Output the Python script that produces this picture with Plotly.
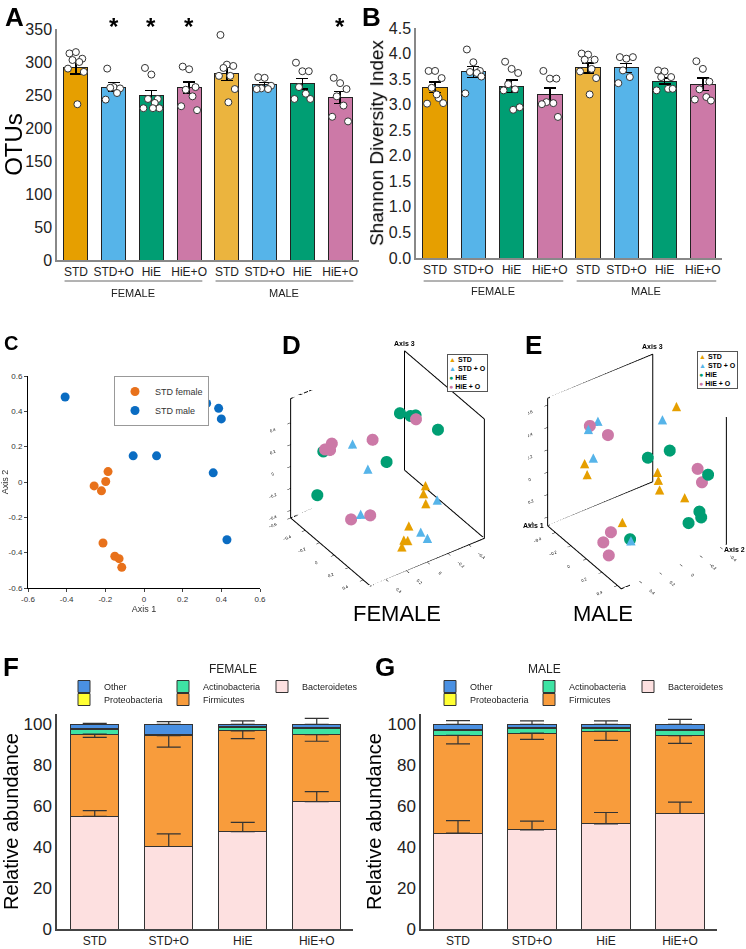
import plotly.graph_objects as go

W, H = 746, 949
def fx(px): return px / W
def fy(py): return 1 - py / H

FONT = "Arial, Liberation Sans, sans-serif"

# ---------------- data ----------------
groups = ["STD", "STD+O", "HiE", "HiE+O"]
alpha_labels = groups + groups
sex_labels = ["FEMALE", "MALE"]
bar_colors = ["#E69F00", "#56B4E9", "#009E73", "#CC79A7",
              "#EBB43E", "#56B4E9", "#009E73", "#CC79A7"]

# Panel A: OTUs
otu_mean = [291, 262, 249, 261, 282, 266, 267, 246]
otu_sem = [9, 7, 8, 9, 10, 3, 8, 9]
otu_points = [
    [313, 315, 305, 303, 300, 290, 285, 236],
    [290, 262, 260, 261, 253, 243],
    [291, 281, 244, 244, 238, 230, 230, 230],
    [293, 289, 262, 258, 248, 233, 227],
    [341, 296, 294, 291, 279, 279, 259, 239],
    [277, 276, 264, 260, 259, 259],
    [299, 286, 286, 262, 252, 244, 244],
    [276, 268, 259, 248, 234, 217, 210],
]
otu_sig = [False, True, True, True, False, False, False, True]

# Panel B: Shannon diversity
sh_mean = [3.34, 3.64, 3.36, 3.20, 3.72, 3.72, 3.46, 3.40]
sh_sem = [0.10, 0.11, 0.12, 0.13, 0.10, 0.09, 0.06, 0.12]
sh_points = [
    [3.66, 3.66, 3.52, 3.33, 3.13, 3.02, 3.03, 3.20],
    [4.08, 3.83, 3.66, 3.64, 3.62, 3.22, 3.55],
    [3.84, 3.70, 3.62, 3.40, 3.30, 3.28, 2.95, 2.90],
    [3.66, 3.51, 3.51, 3.05, 3.03, 3.01, 2.76],
    [4.00, 3.98, 3.88, 3.88, 3.70, 3.65, 3.52, 3.20],
    [3.93, 3.90, 3.93, 3.67, 3.54, 3.42],
    [3.67, 3.65, 3.54, 3.54, 3.31, 3.28, 3.31],
    [3.85, 3.70, 3.45, 3.30, 3.15, 3.10, 3.08],
]

# Panel C: PCoA STD female vs male
c_female_x = [-0.186, -0.198, -0.258, -0.220, -0.212, -0.151, -0.129, -0.115]
c_female_y = [0.059, 0.003, -0.022, -0.050, -0.345, -0.420, -0.434, -0.483]
c_male_x = [-0.408, -0.056, 0.065, 0.324, 0.386, 0.400, 0.358, 0.429]
c_male_y = [0.481, 0.148, 0.148, 0.445, 0.417, 0.357, 0.052, -0.327]
c_ticks = [-0.6, -0.4, -0.2, 0, 0.2, 0.4, 0.6]
c_ticktext = ["-0.6", "-0.4", "-0.2", "0", "0.2", "0.4", "0.6"]

# Panels D / E: 3D PCoA (axis1, axis2, axis3)
d_data = {
    "STD":   ([0.10, 0.13, 0.19, 0.27, 0.33, 0.34, 0.36],
              [-0.26, -0.22, -0.20, 0.02, 0.11, 0.08, 0.15],
              [-0.10, -0.14, -0.19, -0.26, -0.32, -0.33, -0.35]),
    "STD + O": ([-0.22, -0.08, 0.19, 0.02, 0.32, 0.37],
                [0.22, 0.17, -0.31, 0.31, -0.06, -0.09],
                [0.29, 0.12, -0.20, -0.18, -0.32, -0.36]),
    "HiE":   ([-0.28, -0.19, -0.15, 0.13, -0.38, -0.05, -0.42],
              [-0.28, -0.32, -0.34, -0.36, 0.39, 0.01, 0.42],
              [0.34, 0.35, 0.37, 0.39, 0.20, 0.14, -0.21]),
    "HiE + O": ([-0.32, -0.33, -0.37, -0.20, -0.13, -0.04, 0.11],
                [0.35, 0.36, 0.38, 0.04, -0.33, 0.36, 0.28],
                [0.29, 0.23, 0.22, 0.27, 0.35, -0.24, -0.15]),
}
e_data = {
    "STD":   ([-0.04, -0.26, -0.24, -0.01, 0.04, 0.03, 0.17, 0.11],
              [-0.34, 0.40, 0.39, -0.13, -0.10, -0.12, -0.26, 0.31],
              [0.51, 0.15, 0.06, 0.02, -0.01, -0.11, -0.15, -0.19]),
    "STD + O": ([-0.25, -0.27, -0.20, -0.09, 0.22],
                [0.37, 0.26, 0.36, -0.24, 0.31],
                [0.45, 0.47, 0.22, 0.40, -0.29]),
    "HiE":   ([0.07, -0.03, 0.33, 0.27, 0.28, 0.26, 0.21],
              [-0.19, -0.05, -0.37, -0.33, -0.34, -0.23, 0.31],
              [0.24, 0.17, 0.11, -0.24, -0.29, -0.31, -0.28]),
    "HiE + O": ([-0.27, -0.18, 0.26, 0.29, 0.08, 0.06, 0.17],
                [0.34, 0.23, -0.32, -0.34, 0.40, 0.46, 0.49],
                [0.46, 0.39, 0.14, 0.03, -0.26, -0.34, -0.38]),
}
pcoa_colors = {"STD": "#E69F00", "STD + O": "#56B4E9", "HiE": "#009E73", "HiE + O": "#CC79A7"}
pcoa_shape = {"STD": "tri", "STD + O": "tri", "HiE": "dot", "HiE + O": "dot"}
# axis ranges (Axis 1, Axis 2, Axis 3) of the two ordination boxes
d_ranges = ([-0.6, 0.5], [-0.55, 0.55], [-0.47, 0.62])
e_ranges = ([-0.5, 0.45], [-0.46, 0.58], [-0.48, 0.66])

# Panels F / G: relative abundance (stacked, %)
phyla = ["Bacteroidetes", "Firmicutes", "Actinobacteria", "Proteobacteria", "Other"]
phyla_colors = {"Bacteroidetes": "#FDE0E0", "Firmicutes": "#F89C3C",
                "Actinobacteria": "#3EE3A3", "Proteobacteria": "#FFFF33", "Other": "#4A90E2"}
female_abund = {
    "Bacteroidetes": [55.0, 40.3, 47.6, 62.2],
    "Firmicutes": [40.2, 54.1, 49.2, 32.7],
    "Actinobacteria": [2.0, 0.5, 1.5, 2.9],
    "Proteobacteria": [0.5, 0.2, 0.4, 0.4],
    "Other": [2.3, 4.9, 1.3, 1.8],
}
female_err = {"Bacteroidetes": [2.8, 6.2, 4.5, 4.9],
              "Firmicutes": [1.6, 5.6, 3.8, 3.2],
              "Other": [0.4, 1.3, 1.6, 2.9]}
male_abund = {
    "Bacteroidetes": [46.8, 48.4, 51.3, 56.4],
    "Firmicutes": [47.8, 47.3, 45.2, 38.0],
    "Actinobacteria": [2.2, 2.4, 1.3, 2.4],
    "Proteobacteria": [0.5, 0.3, 0.4, 0.5],
    "Other": [2.7, 1.6, 1.8, 2.7],
}
male_err = {"Bacteroidetes": [6.1, 4.3, 5.6, 5.6],
            "Firmicutes": [4.2, 3.1, 4.4, 3.7],
            "Other": [1.8, 1.6, 1.6, 2.4]}

# ---------------- figure ----------------
fig = go.Figure()
SPREAD = [-0.17, 0.0, 0.17, -0.09, 0.09, -0.21, 0.21, 0.04]

def dot_panel(means, sems, points, xa, ya):
    fig.add_trace(go.Bar(
        x=list(range(8)), y=means, width=0.64,
        marker=dict(color=bar_colors, line=dict(color="#222", width=1)),
        error_y=dict(type="data", array=sems, color="black", thickness=1.5, width=6),
        xaxis=xa, yaxis=ya, showlegend=False))
    for i, pts in enumerate(points):
        fig.add_trace(go.Scatter(
            x=[i + SPREAD[k % len(SPREAD)] for k in range(len(pts))], y=pts,
            mode="markers",
            marker=dict(color="white", size=7, line=dict(color="#333", width=1)),
            xaxis=xa, yaxis=ya, showlegend=False))

dot_panel(otu_mean, otu_sem, otu_points, "x", "y")
dot_panel(sh_mean, sh_sem, sh_points, "x2", "y2")

# Panel C
fig.add_trace(go.Scatter(x=c_female_x, y=c_female_y, mode="markers", name="STD female",
                         marker=dict(color="#E8711B", size=9), xaxis="x3", yaxis="y3",
                         legend="legend"))
fig.add_trace(go.Scatter(x=c_male_x, y=c_male_y, mode="markers", name="STD male",
                         marker=dict(color="#0A6CC2", size=9), xaxis="x3", yaxis="y3",
                         legend="legend"))

# Panels D, E  (scene x = Axis 2, scene y = Axis 1, scene z = Axis 3)
def box_edges(ranges, scene):
    (y0, y1), (x0, x1), (z0, z1) = ranges
    # back walls and floor of the ordination box
    xs = [x0, x1, x1, x0, x0, None, x1, x1, None, x0, x0, None, x0, x0, None, x1, x0, x0]
    ys = [y0, y0, y1, y1, y0, None, y0, y0, None, y0, y0, None, y1, y1, None, y0, y0, y1]
    zs = [z0, z0, z0, z0, z0, None, z0, z1, None, z0, z1, None, z0, z1, None, z1, z1, z1]
    fig.add_trace(go.Scatter3d(x=xs, y=ys, z=zs, mode="lines",
                               line=dict(color="black", width=2),
                               scene=scene, showlegend=False))

def pcoa3d(data, ranges, scene):
    box_edges(ranges, scene)
    for g, (a1, a2, a3) in data.items():
        if pcoa_shape[g] == "tri":
            fig.add_trace(go.Scatter3d(x=a2, y=a1, z=a3, mode="text", text=["▲"] * len(a1),
                                       textposition="middle center",
                                       textfont=dict(color=pcoa_colors[g], size=16),
                                       scene=scene, showlegend=False))
        else:
            fig.add_trace(go.Scatter3d(x=a2, y=a1, z=a3, mode="markers",
                                       marker=dict(color=pcoa_colors[g], size=7, line=dict(width=0)),
                                       scene=scene, showlegend=False))

pcoa3d(d_data, d_ranges, "scene")
pcoa3d(e_data, e_ranges, "scene2")

# Panels F, G
RANK = {"Other": 1, "Actinobacteria": 2, "Bacteroidetes": 3, "Proteobacteria": 4, "Firmicutes": 5}

def abund_panel(abund, err, xa, ya, leg1, leg2):
    cum = [0.0] * 4
    tops = {}
    for p in phyla:
        fig.add_trace(go.Bar(
            x=groups, y=abund[p], width=0.65, name=p,
            marker=dict(color=phyla_colors[p], line=dict(color="#333", width=1)),
            xaxis=xa, yaxis=ya,
            legend=leg2 if p in ("Proteobacteria", "Firmicutes") else leg1,
            legendrank=RANK[p]))
        cum = [c + v for c, v in zip(cum, abund[p])]
        tops[p] = list(cum)
    for p, up in (("Bacteroidetes", True), ("Firmicutes", False), ("Other", True)):
        e = err[p]
        zeros = [0] * 4
        fig.add_trace(go.Scatter(
            x=groups, y=tops[p], mode="markers", marker=dict(size=1, opacity=0),
            error_y=dict(type="data", symmetric=False,
                         array=e if up else zeros, arrayminus=zeros if up else e,
                         color="#333", thickness=1.2, width=12),
            xaxis=xa, yaxis=ya, showlegend=False))

abund_panel(female_abund, female_err, "x4", "y4", "legend2", "legend3")
abund_panel(male_abund, male_err, "x5", "y5", "legend4", "legend5")

# ---------------- layout ----------------
ax_common = dict(showgrid=False, zeroline=False, showline=True, linecolor="#888",
                 linewidth=1.5, automargin=False)

def bar_x(dom, anchor):
    return dict(ax_common, domain=dom, anchor=anchor, range=[-0.5, 7.5],
                tickvals=list(range(8)), ticktext=alpha_labels, ticks="",
                tickfont=dict(size=12, color="#222"))

layout = dict(
    width=W, height=H, margin=dict(l=0, r=0, t=0, b=0, autoexpand=False),
    paper_bgcolor="white", plot_bgcolor="white",
    font=dict(family=FONT, color="black"),
    hovermode=False, barmode="stack",
    xaxis=bar_x([fx(57), fx(359)], "y"),
    yaxis=dict(ax_common, domain=[fy(260), fy(29)], anchor="x", range=[0, 350], dtick=50,
               ticks="", tickfont=dict(size=16, color="#222"),
               title=dict(text="OTUs", font=dict(size=24), standoff=8)),
    xaxis2=bar_x([fx(416), fx(722)], "y2"),
    yaxis2=dict(ax_common, domain=[fy(258), fy(28)], anchor="x2", range=[0, 4.5], dtick=0.5,
                tickformat=".1f", ticks="", tickfont=dict(size=16, color="#222"),
                title=dict(text="Shannon Diversity Index", font=dict(size=19), standoff=0)),
    xaxis3=dict(showgrid=False, zeroline=False, showline=True, linecolor="black", linewidth=1,
                automargin=False, domain=[fx(28), fx(260)], anchor="y3", range=[-0.6, 0.6],
                tickvals=c_ticks, ticktext=c_ticktext, ticks="outside", ticklen=3,
                tickfont=dict(size=8, color="#333"),
                title=dict(text="Axis 1", font=dict(size=9, color="#333"), standoff=2)),
    yaxis3=dict(showgrid=False, zeroline=False, showline=True, linecolor="black", linewidth=1,
                automargin=False, domain=[fy(588), fy(376)], anchor="x3", range=[-0.6, 0.6],
                tickvals=c_ticks, ticktext=c_ticktext, ticks="outside", ticklen=3,
                tickfont=dict(size=8, color="#333"),
                title=dict(text="Axis 2", font=dict(size=9, color="#333"), standoff=2)),
    xaxis4=dict(ax_common, domain=[fx(57), fx(353)], anchor="y4", range=[-0.51, 3.49],
                linecolor="#444", ticks="", tickfont=dict(size=12, color="#222")),
    yaxis4=dict(ax_common, domain=[fy(929), fy(714)], anchor="x4", range=[0, 105],
                linecolor="#444", tickvals=[0, 20, 40, 60, 80, 100], ticks="",
                tickfont=dict(size=17, color="#222"),
                title=dict(text="Relative abundance", font=dict(size=20), standoff=2)),
    xaxis5=dict(ax_common, domain=[fx(421), fx(717)], anchor="y5", range=[-0.5, 3.5],
                linecolor="#444", ticks="", tickfont=dict(size=12, color="#222")),
    yaxis5=dict(ax_common, domain=[fy(929), fy(714)], anchor="x5", range=[0, 105],
                linecolor="#444", tickvals=[0, 20, 40, 60, 80, 100], ticks="",
                tickfont=dict(size=17, color="#222"),
                title=dict(text="Relative abundance", font=dict(size=20), standoff=0)),
    legend=dict(x=fx(114), y=fy(376), xanchor="left", yanchor="top", traceorder="normal",
                bgcolor="white", bordercolor="#999", borderwidth=1,
                font=dict(size=9, color="#333"), tracegroupgap=0, itemwidth=30),
)

leg_common = dict(orientation="h", xanchor="left", yanchor="top", entrywidth=54,
                  traceorder="normal", bgcolor="rgba(0,0,0,0)",
                  font=dict(size=9, color="#222"), itemwidth=30)
layout["legend2"] = dict(leg_common, x=fx(64), y=fy(672))
layout["legend3"] = dict(leg_common, x=fx(64), y=fy(685))
layout["legend4"] = dict(leg_common, x=fx(430), y=fy(672))
layout["legend5"] = dict(leg_common, x=fx(430), y=fy(685))

def scene_cfg(domx, domy, ranges, ticks3, aspect, a2shift):
    (yr, xr, zr) = ranges
    (yt, xt, zt) = ticks3
    def axis(r, tv):
        return dict(range=r, showbackground=False, showgrid=False, zeroline=False,
                    showline=False, ticks="outside", ticklen=4, tickcolor="black", tickvals=tv,
                    tickfont=dict(size=7, color="black"), title=dict(text=""),
                    showspikes=False)
    return dict(
        domain=dict(x=domx, y=domy),
        xaxis=axis(xr, xt), yaxis=axis(yr, yt), zaxis=axis(zr, zt),
        aspectmode="manual", aspectratio=dict(x=aspect[0], y=aspect[1], z=aspect[2]),
        camera=dict(eye=dict(x=0.995, y=1.42, z=1.296),
                    up=dict(x=0, y=0, z=1), center=dict(x=0, y=0, z=0),
                    projection=dict(type="orthographic")),
        annotations=[
            dict(x=xr[0], y=yr[0], z=zr[1], text="<b>Axis 3</b>", showarrow=False,
                 yshift=7, font=dict(size=7)),
            dict(x=xr[1], y=yr[0], z=zr[0], text="<b>Axis 1</b>", showarrow=False,
                 xshift=-14, font=dict(size=7)),
            dict(x=xr[0], y=yr[1], z=zr[0], text="<b>Axis 2</b>", showarrow=False,
                 xshift=a2shift, yshift=-5, font=dict(size=7)),
        ],
    )

tv4 = [-0.4, -0.2, 0, 0.2, 0.4]
layout["scene"] = scene_cfg([fx(262), fx(513)], [fy(615.5), fy(320.5)], d_ranges,
                            ([-0.6, -0.4, -0.2, 0, 0.2, 0.4], tv4, tv4),
                            (0.943, 0.943, 1.01), 11)
layout["scene2"] = scene_cfg([fx(527.5), fx(745.5)], [fy(618.5), fy(323.5)], e_ranges,
                             (tv4, tv4, [-0.4, -0.2, 0, 0.2, 0.4, 0.6]),
                             (0.87, 0.87, 1.08), 9)

fig.update_layout(layout)

# ---------------- annotations & shapes ----------------
ann = []
shapes = []
for xa, yref_lbl in (("x", 293), ("x2", 291)):
    for s, sex in enumerate(sex_labels):
        ann.append(dict(x=1.5 + 4 * s, y=fy(yref_lbl), xref=xa, yref="paper", text=sex,
                        yanchor="middle", showarrow=False, font=dict(size=11, color="#222")))
        shapes.append(dict(type="line", xref=xa, yref="paper", x0=-0.3 + 4 * s,
                           x1=3.35 + 4 * s, y0=fy(281), y1=fy(281),
                           line=dict(color="#666", width=1)))
for i, sig in enumerate(otu_sig):
    if sig:
        ann.append(dict(x=i, y=fy(27), xref="x", yref="paper", text="<b>*</b>",
                        yanchor="middle", showarrow=False, font=dict(size=24, color="black")))

panel_letters = [("A", 3, 0, 26), ("B", 360, 0, 26), ("C", 2, 330, 20), ("D", 280, 328, 26),
                 ("E", 523, 328, 26), ("F", 1, 650, 26), ("G", 373, 650, 26)]
for t, px, py, sz in panel_letters:
    ann.append(dict(x=fx(px), y=fy(py), xref="paper", yref="paper", xanchor="left",
                    yanchor="top", text=f"<b>{t}</b>", showarrow=False,
                    font=dict(size=sz, color="black")))

ann.append(dict(x=fx(397), y=fy(613), xref="paper", yref="paper", text="FEMALE",
                yanchor="middle", showarrow=False, font=dict(size=22, color="black")))
ann.append(dict(x=fx(635), y=fy(613), xref="paper", yref="paper", text="MALE",
                yanchor="middle", showarrow=False, font=dict(size=22, color="black")))

ann.append(dict(x=fx(207), y=fy(669), xref="paper", yref="paper", text="FEMALE",
                yanchor="middle", showarrow=False, font=dict(size=12, color="#222")))
ann.append(dict(x=fx(563), y=fy(669), xref="paper", yref="paper", text="MALE",
                yanchor="middle", showarrow=False, font=dict(size=12, color="#222")))

def pcoa_legend_text():
    rows = []
    for g in d_data:
        sym = "▲" if pcoa_shape[g] == "tri" else "●"
        rows.append(f"<span style='color:{pcoa_colors[g]}'>{sym}</span> {g}")
    return "<b>" + "<br>".join(rows) + "</b>"

for px, py in ((447, 354), (697, 351)):
    ann.append(dict(x=fx(px), y=fy(py), xref="paper", yref="paper", xanchor="left",
                    yanchor="top", text=pcoa_legend_text(), showarrow=False, align="left",
                    bordercolor="#555", borderwidth=1, borderpad=1, bgcolor="white",
                    font=dict(size=7, color="black")))

fig.update_layout(annotations=ann, shapes=shapes)
fig.write_html("out.html", config={"displayModeBar": False},
               post_script="document.body.style.margin='0px';")
